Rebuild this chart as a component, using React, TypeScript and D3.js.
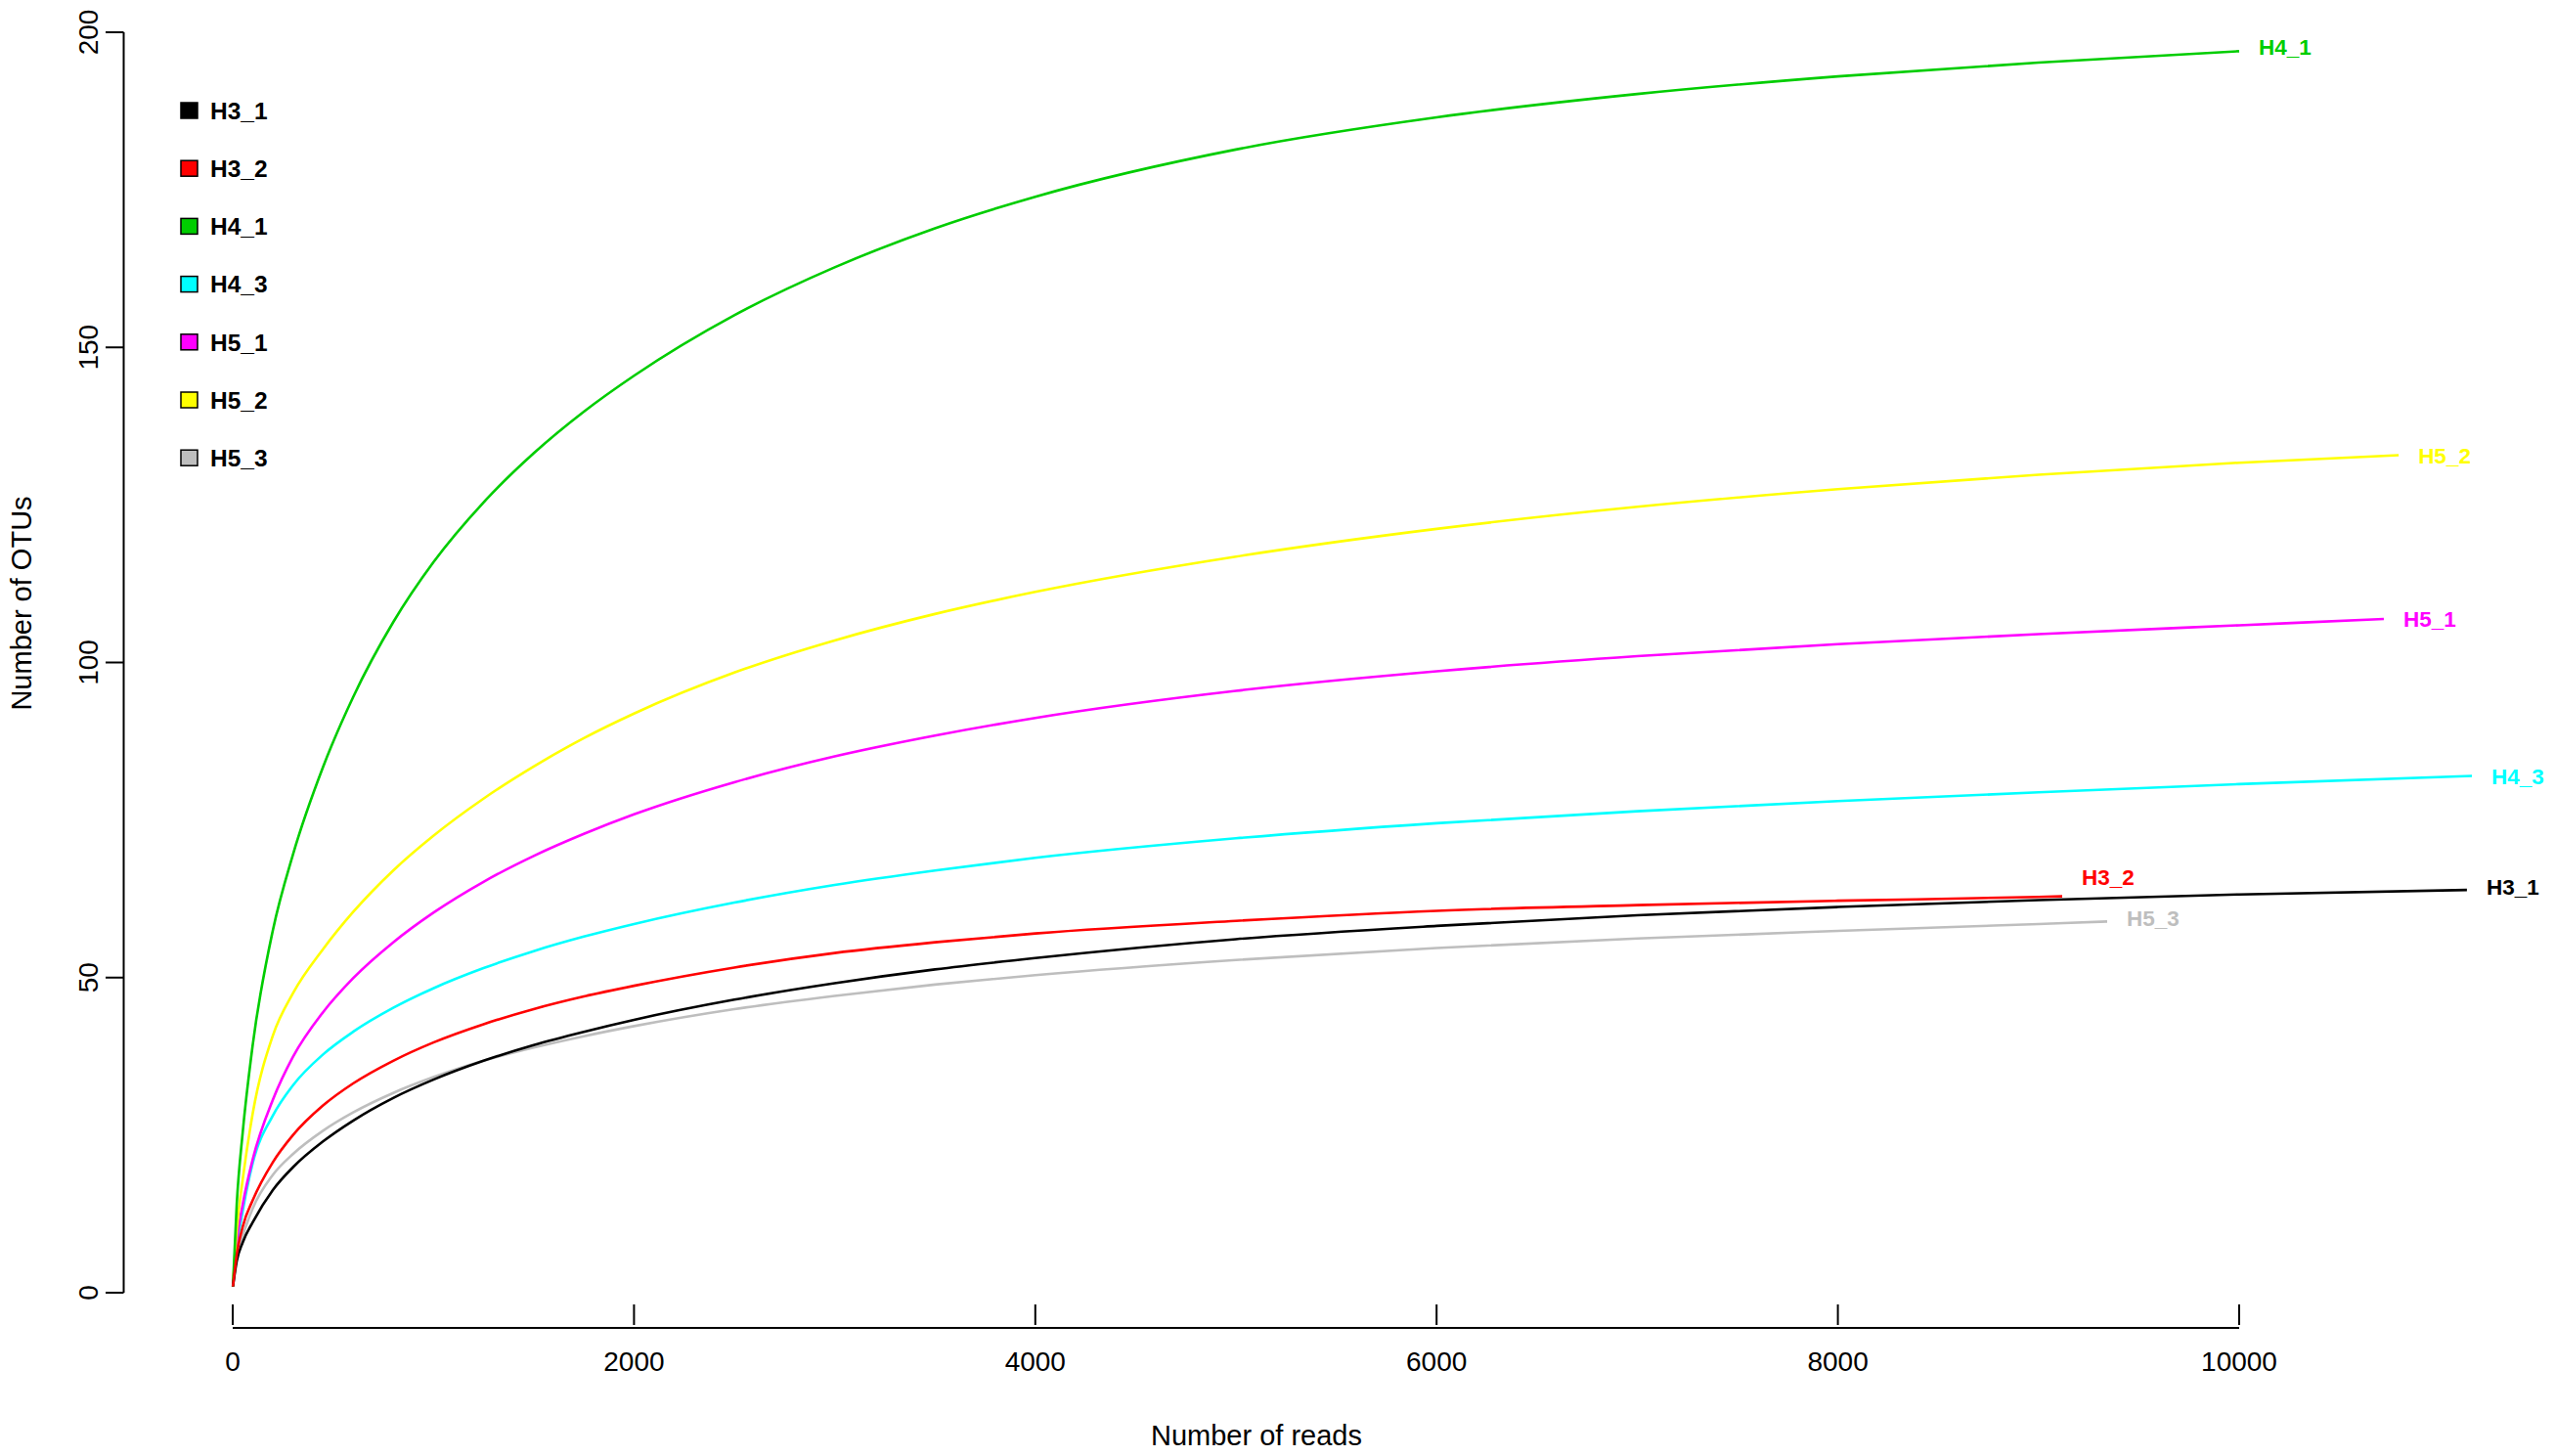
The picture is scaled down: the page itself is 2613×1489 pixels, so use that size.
import React from "react";
import * as d3 from "d3";

const seriesNames = ["H3_1", "H3_2", "H4_1", "H4_3", "H5_1", "H5_2", "H5_3"];
const seriesColors = ["#000000", "#FF0000", "#00CD00", "#00FFFF", "#FF00FF", "#FFFF00", "#BEBEBE"];

const readsH3_1 = [1, 20, 50, 100, 200, 300, 450, 600, 800, 1000, 1250, 1500, 1750, 2000, 2500, 3000, 3500, 4000, 5000, 6000, 7000, 8000, 9000, 10000, 11135];
const otuH3_1 = [1, 5, 8, 11.2, 16.3, 19.9, 24, 27.3, 30.9, 33.8, 36.8, 39.3, 41.4, 43.3, 46.5, 49.1, 51.3, 53.1, 56.1, 58.2, 59.9, 61.2, 62.3, 63.2, 63.9];

const readsH3_2 = [1, 20, 50, 100, 200, 300, 450, 600, 800, 1000, 1250, 1500, 1750, 2000, 2500, 3000, 3500, 4000, 5000, 6000, 7000, 8000, 9000, 9118];
const otuH3_2 = [1, 6, 10.5, 14.7, 20.7, 25, 29.7, 33.2, 36.8, 39.7, 42.6, 45, 47, 48.7, 51.6, 53.9, 55.6, 57, 59, 60.6, 61.5, 62.2, 62.8, 62.9];

const readsH4_1 = [1, 20, 50, 100, 200, 300, 450, 600, 800, 1000, 1250, 1500, 1750, 2000, 2500, 3000, 3500, 4000, 5000, 6000, 7000, 8000, 9000, 10000];
const otuH4_1 = [1, 14, 25.5, 39.4, 57.5, 69.5, 83.4, 94.5, 106.4, 115.9, 125.4, 133.2, 139.8, 145.5, 155.1, 162.7, 168.9, 173.9, 181.4, 186.5, 190.2, 193, 195.2, 197];

const readsH4_3 = [1, 20, 50, 100, 200, 300, 450, 600, 800, 1000, 1250, 1500, 1750, 2000, 2500, 3000, 3500, 4000, 5000, 6000, 7000, 8000, 9000, 10000, 11160];
const otuH4_3 = [1, 7, 13, 20.6, 28.1, 32.9, 37.8, 41.4, 45.2, 48.3, 51.5, 54.2, 56.5, 58.5, 61.9, 64.7, 67, 69, 72.1, 74.5, 76.4, 78, 79.4, 80.7, 82];

const readsH5_1 = [1, 20, 50, 100, 200, 300, 450, 600, 800, 1000, 1250, 1500, 1750, 2000, 2500, 3000, 3500, 4000, 5000, 6000, 7000, 8000, 9000, 10000, 10721];
const otuH5_1 = [1, 8, 14, 21.2, 30.6, 37.4, 44.5, 49.9, 55.6, 60.3, 65.2, 69.3, 72.8, 75.9, 81, 85.1, 88.4, 91.2, 95.5, 98.6, 101, 102.9, 104.5, 105.9, 106.9];

const readsH5_2 = [1, 20, 50, 100, 200, 300, 450, 600, 800, 1000, 1250, 1500, 1750, 2000, 2500, 3000, 3500, 4000, 5000, 6000, 7000, 8000, 9000, 10000, 10795];
const otuH5_2 = [1, 10, 18, 28.5, 40.8, 47.5, 54.5, 60.4, 67, 72.5, 78.4, 83.5, 88, 91.9, 98.4, 103.5, 107.7, 111.2, 116.8, 121.2, 124.7, 127.5, 129.8, 131.7, 132.9];

const readsH5_3 = [1, 20, 50, 100, 200, 300, 450, 600, 800, 1000, 1250, 1500, 1750, 2000, 2500, 3000, 3500, 4000, 5000, 6000, 7000, 8000, 9000, 9342];
const otuH5_3 = [1, 5.5, 9, 13.4, 18.7, 22, 25.7, 28.6, 31.7, 34.2, 36.8, 38.9, 40.7, 42.3, 45, 47.1, 48.9, 50.4, 52.8, 54.7, 56.2, 57.4, 58.5, 58.9];

const seriesReads = [readsH3_1, readsH3_2, readsH4_1, readsH4_3, readsH5_1, readsH5_2, readsH5_3];
const seriesOtus = [otuH3_1, otuH3_2, otuH4_1, otuH4_3, otuH5_1, otuH5_2, otuH5_3];

const xTicks = [0, 2000, 4000, 6000, 8000, 10000];
const yTicks = [0, 50, 100, 150, 200];

// drawing order (back to front)
const drawOrder = [6, 3, 4, 5, 2, 0, 1];

export default function App() {
  const W = 2613;
  const H = 1489;
  const x = d3.scaleLinear().domain([0, 10000]).range([238, 2290]);
  const y = d3.scaleLinear().domain([0, 200]).range([1322, 33]);
  const font = "'Liberation Sans', Arial, Helvetica, sans-serif";

  const line = d3
    .line<[number, number]>()
    .x((d) => x(d[0]))
    .y((d) => y(d[1]))
    .curve(d3.curveMonotoneX);

  const labelNudge: Record<string, number> = { H3_2: -20, H4_1: -4, H3_1: -3, H5_3: -3 };

  return (
    <svg
      width={W}
      height={H}
      viewBox={`0 0 ${W} ${H}`}
      style={{ position: "absolute", left: 0, top: 0, background: "#fff" }}
      fontFamily={font}
    >
      <rect x={0} y={0} width={W} height={H} fill="#fff" />

      {/* Y axis */}
      <line x1={126.5} x2={126.5} y1={y(200)} y2={y(0)} stroke="#000" strokeWidth={2} />
      {yTicks.map((t) => (
        <g key={`yt${t}`}>
          <line x1={108} x2={126.5} y1={y(t)} y2={y(t)} stroke="#000" strokeWidth={2} />
          <text
            transform={`translate(100,${y(t)}) rotate(-90)`}
            textAnchor="middle"
            fontSize={28}
            fill="#000"
          >
            {t}
          </text>
        </g>
      ))}

      {/* X axis */}
      <line x1={x(0)} x2={x(10000)} y1={1358} y2={1358} stroke="#000" strokeWidth={2} />
      {xTicks.map((t) => (
        <g key={`xt${t}`}>
          <line x1={x(t)} x2={x(t)} y1={1334} y2={1355} stroke="#000" strokeWidth={2} />
          <text x={x(t)} y={1402} textAnchor="middle" fontSize={28} fill="#000">
            {t}
          </text>
        </g>
      ))}

      {/* Axis titles */}
      <text x={1285} y={1478} textAnchor="middle" fontSize={29} fill="#000">
        Number of reads
      </text>
      <text
        transform={`translate(32,617) rotate(-90)`}
        textAnchor="middle"
        fontSize={29}
        fill="#000"
      >
        Number of OTUs
      </text>

      {/* Curves */}
      {drawOrder.map((i) => {
        const pts: [number, number][] = seriesReads[i].map((r, k) => [r, seriesOtus[i][k]]);
        return (
          <path
            key={`c${i}`}
            d={line(pts) || ""}
            fill="none"
            stroke={seriesColors[i]}
            strokeWidth={2.6}
            strokeLinejoin="round"
          />
        );
      })}

      {/* End labels */}
      {seriesNames.map((name, i) => {
        const rs = seriesReads[i];
        const os = seriesOtus[i];
        const lx = x(rs[rs.length - 1]) + 20;
        const ly = y(os[os.length - 1]) + (labelNudge[name] || 0);
        return (
          <text
            key={`l${i}`}
            x={lx}
            y={ly}
            dy="0.36em"
            fontSize={22.5}
            fontWeight="bold"
            fill={seriesColors[i]}
          >
            {name}
          </text>
        );
      })}

      {/* Legend */}
      {seriesNames.map((name, i) => {
        const cy = 113 + i * 59.2;
        return (
          <g key={`lg${i}`}>
            <rect
              x={185}
              y={cy - 8}
              width={17}
              height={16}
              fill={seriesColors[i]}
              stroke="#000"
              strokeWidth={1.5}
            />
            <text x={215} y={cy} dy="0.36em" fontSize={24.5} fontWeight="bold" fill="#000">
              {name}
            </text>
          </g>
        );
      })}
    </svg>
  );
}
